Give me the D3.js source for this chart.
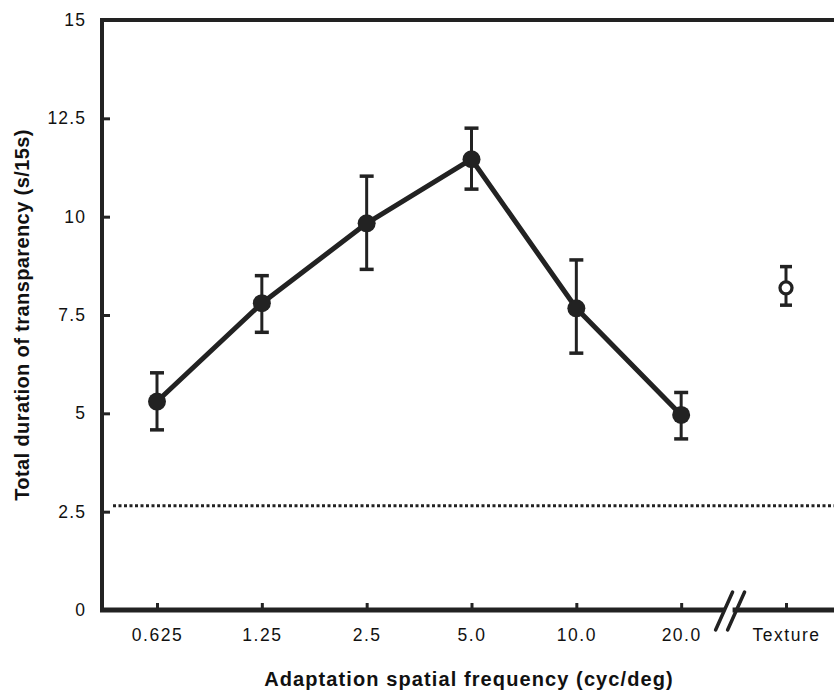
<!DOCTYPE html>
<html><head><meta charset="utf-8">
<script src="https://cdn.jsdelivr.net/npm/d3@7"></script>
<style>body{margin:0;background:#fff}svg{display:block}</style>
</head><body>
<svg id="c" width="834" height="691"></svg>
<script>
const categories = ["0.625","1.25","2.5","5.0","10.0","20.0","Texture"];
const means  = [5.30, 7.80, 9.83, 11.46, 7.67, 4.96];
const upper  = [6.03, 8.50, 11.03, 12.25, 8.90, 5.53];
const lower  = [4.58, 7.06, 8.66, 10.70, 6.53, 4.35];
const textureMean = 8.19, textureUpper = 8.73, textureLower = 7.75;
const baseline = 2.65;
const yTicks = [0, 2.5, 5, 7.5, 10, 12.5, 15];
const yTickLabels = ["0","2.5","5","7.5","10","12.5","15"];

(function(){
const svg = d3.select("#c");
const ink = "#222";
const font = "Liberation Sans, Arial, sans-serif";
const mLeft = 102, mRight = 845, mTop = 20, mBottom = 610;
const x = d3.scalePoint().domain(categories).range([157, 786]);
const y = d3.scaleLinear().domain([0, 15]).range([mBottom, mTop]);

// dotted baseline
svg.append("line").attr("x1", 113).attr("x2", 834)
  .attr("y1", y(baseline)).attr("y2", y(baseline))
  .attr("stroke", ink).attr("stroke-width", 3).attr("stroke-dasharray", "3,2.5");

// y axis
const yAxis = d3.axisLeft(y).tickValues(yTicks).tickFormat((d,i)=>yTickLabels[i]).tickSize(-8).tickPadding(16);
const gy = svg.append("g").attr("transform", `translate(${mLeft},0)`).call(yAxis);
gy.attr("font-size", null).attr("font-family", null);
gy.select(".domain").remove();
gy.selectAll(".tick line").attr("stroke", ink).attr("stroke-width", 3);
gy.selectAll(".tick text").style("font-family", font).style("font-size", "17.5px").style("letter-spacing","1.1px").attr("fill","#111");
svg.append("line").attr("x1", mLeft).attr("x2", mLeft).attr("y1", mTop-2).attr("y2", mBottom+2).attr("stroke", ink).attr("stroke-width", 4);
// top border
svg.append("line").attr("x1", mLeft-2).attr("x2", mRight).attr("y1", mTop).attr("y2", mTop).attr("stroke", ink).attr("stroke-width", 4);

// x axis
const xAxis = d3.axisBottom(x).tickSize(-7).tickPadding(19);
const gx = svg.append("g").attr("transform", `translate(0,${mBottom})`).call(xAxis);
gx.attr("font-size", null).attr("font-family", null);
gx.select(".domain").remove();
gx.selectAll(".tick line").attr("stroke", ink).attr("stroke-width", 3);
gx.selectAll(".tick text").style("font-family", font).style("font-size", "17.5px").style("letter-spacing","1.5px").attr("fill","#111");
svg.append("line").attr("x1", mLeft-2).attr("x2", mRight).attr("y1", mBottom).attr("y2", mBottom).attr("stroke", ink).attr("stroke-width", 5);

// axis break slashes
const bx = (x("20.0") + x("Texture")) / 2 - 3;
svg.append("rect").attr("x", bx-6).attr("y", mBottom-3).attr("width", 8).attr("height", 6).attr("fill","#fff");
[-6, 6].forEach(dx => {
  svg.append("line").attr("x1", bx - 9 + dx).attr("y1", mBottom + 20).attr("x2", bx + 8 + dx).attr("y2", mBottom - 18)
    .attr("stroke", ink).attr("stroke-width", 3.5).attr("stroke-linecap", "round");
});

// data
const pts = means.map((m,i)=>({c:categories[i], m, u:upper[i], l:lower[i]}));
const eb = svg.append("g");
pts.forEach(p=>{
  const cx = x(p.c);
  eb.append("line").attr("x1",cx).attr("x2",cx).attr("y1",y(p.u)).attr("y2",y(p.l)).attr("stroke",ink).attr("stroke-width",3);
  [p.u,p.l].forEach(v=>eb.append("line").attr("x1",cx-7).attr("x2",cx+7).attr("y1",y(v)).attr("y2",y(v)).attr("stroke",ink).attr("stroke-width",3.5));
});
svg.append("path").datum(pts)
  .attr("d", d3.line().x(p=>x(p.c)).y(p=>y(p.m)))
  .attr("fill","none").attr("stroke",ink).attr("stroke-width",5).attr("stroke-linejoin","round");
svg.selectAll("circle.pt").data(pts).enter().append("circle")
  .attr("cx",p=>x(p.c)).attr("cy",p=>y(p.m)).attr("r",9).attr("fill",ink);

// texture point
const tx = x("Texture");
svg.append("line").attr("x1",tx).attr("x2",tx).attr("y1",y(textureUpper)).attr("y2",y(textureLower)).attr("stroke",ink).attr("stroke-width",3);
[textureUpper, textureLower].forEach(v=>svg.append("line").attr("x1",tx-6).attr("x2",tx+6).attr("y1",y(v)).attr("y2",y(v)).attr("stroke",ink).attr("stroke-width",3.5));
svg.append("circle").attr("cx",tx).attr("cy",y(textureMean)).attr("r",6).attr("fill","#fff").attr("stroke",ink).attr("stroke-width",3.3);

// titles
svg.append("text").attr("x", 469).attr("y", 686).attr("text-anchor","middle")
  .style("font-family", font).style("font-weight","bold").style("font-size","20px").style("letter-spacing","1.1px").attr("fill","#111")
  .text("Adaptation spatial frequency (cyc/deg)");
svg.append("text").attr("transform","translate(29,315) rotate(-90)").attr("text-anchor","middle")
  .style("font-family", font).style("font-weight","bold").style("font-size","20px").style("letter-spacing","0.4px").attr("fill","#111")
  .text("Total duration of transparency (s/15s)");
})();
</script>
</body></html>
